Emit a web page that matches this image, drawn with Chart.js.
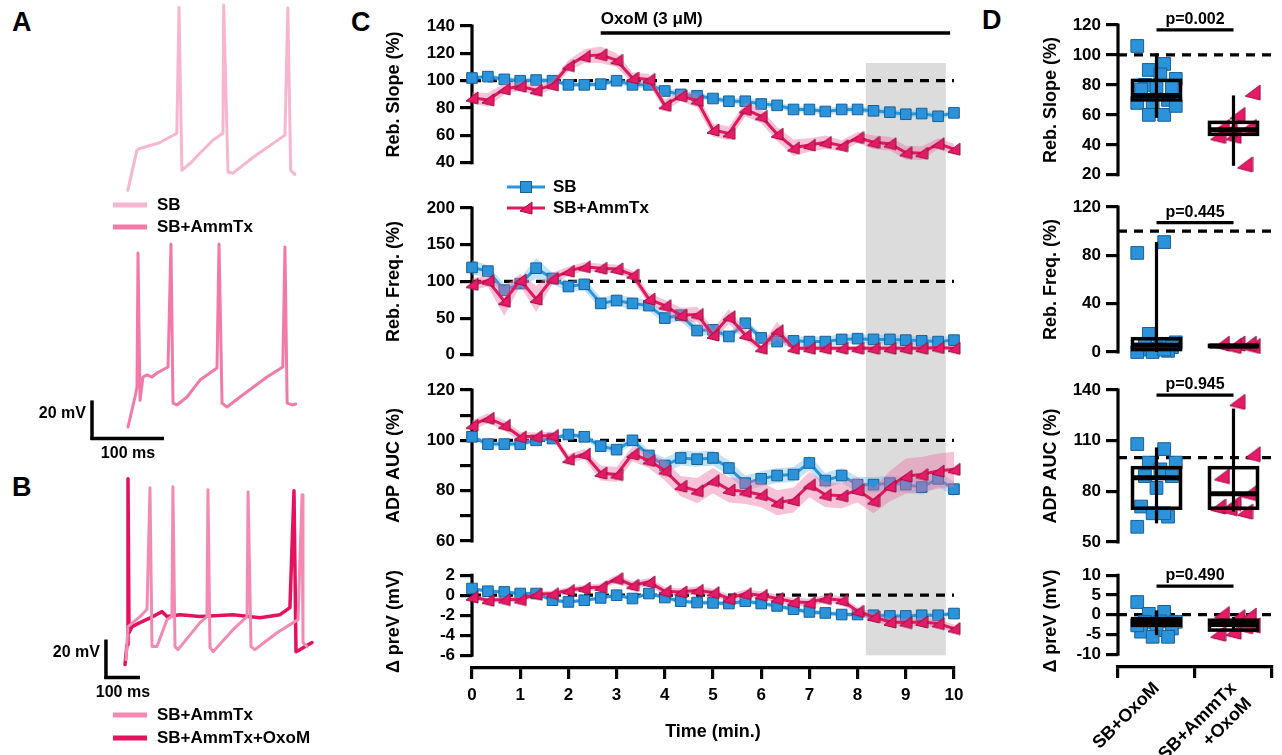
<!DOCTYPE html>
<html>
<head>
<meta charset="utf-8">
<title>OxoM rebound</title>
<script src="https://cdn.jsdelivr.net/npm/chart.js@4.4.1/dist/chart.umd.min.js"></script>
<style>
  body { margin: 0; width: 1282px; height: 755px; position: relative; background: #fff; overflow: hidden;
         font-family: "Liberation Sans", Arial, sans-serif; }
  canvas { position: absolute; }
  .letter { position: absolute; font-weight: bold; font-size: 27px; line-height: 1; }
</style>
</head>
<body>
<div class="letter" style="left:12px;top:9px">A</div>
<div class="letter" style="left:12px;top:474px">B</div>
<div class="letter" style="left:351px;top:9px">C</div>
<div class="letter" style="left:982px;top:7px">D</div>

<canvas id="traceA1" width="209" height="236" style="left:99px;top:0px"></canvas>
<canvas id="traceA2" width="270" height="247" style="left:38px;top:237px"></canvas>
<canvas id="traceB" width="289" height="279" style="left:40px;top:471px"></canvas>

<canvas id="c1" width="582" height="178" style="left:383px;top:0px"></canvas>
<canvas id="c2" width="582" height="192" style="left:383px;top:178px"></canvas>
<canvas id="c3" width="582" height="190" style="left:383px;top:370px"></canvas>
<canvas id="c4" width="582" height="195" style="left:383px;top:560px"></canvas>

<canvas id="d1" width="242" height="190" style="left:1040px;top:0px"></canvas>
<canvas id="d2" width="242" height="180" style="left:1040px;top:190px"></canvas>
<canvas id="d3" width="242" height="190" style="left:1040px;top:370px"></canvas>
<canvas id="d4" width="242" height="195" style="left:1040px;top:560px"></canvas>

<script>
// ---- данные: время (мин.) ----
const timeMin = [0, 0.33, 0.67, 1, 1.33, 1.67, 2, 2.33, 2.67, 3, 3.33, 3.67, 4, 4.33, 4.67, 5,
                 5.33, 5.67, 6, 6.33, 6.67, 7, 7.33, 7.67, 8, 8.33, 8.67, 9, 9.33, 9.67, 10];

// Reb. Slope (%)
const slopeSB = [102, 103, 101, 100, 100.5, 100, 97, 97, 97.5, 100, 97, 97, 92.5, 90, 89, 87,
                 85, 85, 83, 82, 79, 79, 77.5, 79, 79, 78, 77, 75.5, 76, 74, 76.5];
const slopeSBsem = [1.5, 1.8, 2, 1.8, 2, 1.7, 1.6, 1.8, 1.9, 2.1, 2.2, 2.4, 2.5, 2.4, 2.3, 2.2,
                    2.4, 2.5, 2.6, 2.4, 2.3, 2.2, 2.4, 2.5, 2.3, 2.2, 2.4, 2.5, 2.6, 2.4, 2.3];
const slopeAmm = [87.5, 86, 94, 96, 93, 97, 111, 118, 119, 115, 102, 101, 82, 89, 85.5, 64,
                  61.5, 79, 74, 61, 51, 53, 55, 52.5, 58.5, 55, 54, 47.5, 47, 54, 50];
const slopeAmmSem = [4, 5, 4, 3, 4, 3, 4, 5, 6, 5, 4, 4, 4, 4, 5, 5,
                     5, 5, 5, 5, 6, 5, 5, 4, 4, 5, 5, 5, 5, 4, 4];

// Reb. Freq. (%)
const freqSB = [119, 114, 88, 97, 118, 104, 93, 96, 70, 74, 70, 67, 50, 54, 33, 34,
                25, 43, 23, 18, 19, 18, 18, 21, 22, 21, 21, 20, 19, 18, 20];
const freqSBsem = [10, 8, 8, 7, 14, 8, 7, 8, 8, 8, 8, 7, 8, 8, 8, 6,
                   6, 5, 6, 6, 6, 7, 7, 7, 6, 6, 6, 6, 6, 6, 6];
const freqAmm = [96, 101, 73, 102, 76, 104, 114, 120, 118, 117, 109, 76, 67, 54, 55, 27,
                 52, 27, 9, 33, 9, 9, 9, 9, 9, 9, 9, 9, 9, 10, 9];
const freqAmmSem = [8, 8, 20, 8, 18, 8, 6, 6, 6, 6, 6, 8, 8, 10, 10, 8,
                    10, 8, 4, 12, 3, 3, 3, 3, 3, 3, 3, 3, 3, 3, 3];

// ADP AUC (%)
const aucSB = [101.4, 98.5, 98.5, 98.5, 100, 100.7, 102.3, 101.4, 97.7, 96.3, 100, 94, 90, 93, 92.5, 93,
               89, 83, 84.7, 86, 86.4, 91, 84, 86, 82.4, 82.4, 83, 82.4, 81.4, 84.7, 80.6];
const aucSBsem = [1, 1, 1, 1, 1, 1, 1, 1, 1.5, 1.5, 2, 2, 3, 3, 3, 3,
                  3, 3, 3, 3, 3, 3, 3, 3, 3, 3, 3, 3, 3, 3, 3];
const aucAmm = [106, 108.8, 106, 101.4, 101.6, 102, 92.5, 94.6, 87, 86.4, 94.6, 92, 88, 81.8, 80, 84,
                80.3, 79.7, 78.4, 75.2, 76.3, 82.4, 78.4, 78, 80.3, 76, 81.8, 85.8, 86.4, 87.8, 88.5];
const aucAmmSem = [2, 2, 2, 2, 1.5, 1.5, 2, 2, 3, 3, 3, 3, 4, 4, 5, 5,
                   5, 5, 5, 5, 5, 5, 5, 5, 5, 5, 6, 7, 7, 7, 7];

// Δ preV (mV)
const prevSB = [0.67, 0.4, 0.33, 0.17, 0.17, -0.5, -0.67, -0.5, -0.27, 0, -0.33, 0.17, -0.23, -0.6, -0.73, -0.77,
                -0.83, -0.6, -0.83, -1.07, -1.4, -1.67, -1.77, -1.93, -1.93, -2, -2.07, -2.07, -2, -2, -1.83];
const prevSBsem = [0.2, 0.2, 0.2, 0.2, 0.2, 0.2, 0.2, 0.2, 0.2, 0.2, 0.2, 0.2, 0.25, 0.25, 0.25, 0.25,
                   0.25, 0.25, 0.25, 0.25, 0.25, 0.25, 0.25, 0.25, 0.25, 0.25, 0.25, 0.25, 0.25, 0.25, 0.25];
const prevAmm = [-0.17, -0.5, -0.43, -0.43, 0.1, 0.17, 0.5, 0.73, 0.83, 1.67, 1.0, 1.33, 0.4, 0.33, 0.5, 0.27,
                 -0.33, 0.17, 0, -0.33, -0.67, -0.73, -0.33, -0.5, -1.6, -2.17, -2.67, -2.73, -2.67, -2.83, -3.33];
const prevAmmSem = [0.25, 0.25, 0.25, 0.25, 0.25, 0.3, 0.3, 0.3, 0.35, 0.4, 0.4, 0.4, 0.4, 0.4, 0.4, 0.4,
                    0.4, 0.4, 0.4, 0.4, 0.4, 0.4, 0.4, 0.4, 0.4, 0.4, 0.4, 0.4, 0.4, 0.4, 0.4];

// панель D: группы и значения отдельных клеток
const groupLabels = ['SB+OxoM', ['SB+AmmTx', '+OxoM']];
const dSlopeSB = [106, 94, 90, 84, 87, 80, 78, 79, 77, 70, 68, 68, 60, 60, 66];
const dSlopeAmm = [75, 60, 52, 52, 46, 46, 27, 50];
const dFreqSB = [82, 91, 15, 8, 6, 5, 4, 3, 2, 1, 0, 0, 2];
const dFreqAmm = [5, 7, 7, 7, 5];
const dAucSB = [108, 105, 97, 97, 93, 89, 89, 82, 71, 65, 67, 59, 67];
const dAucAmm = [102, 133, 89, 79, 73, 71, 68, 70];
const dPrevSB = [3.2, 0.7, 0.2, -1.8, -1.7, -1.8, -3.5, -3.9, -4.3, -5.6, -5.6, -2.7];
const dPrevAmm = [-2.7, -0.6, 0.2, -0.2, -4.3, -4.8, -2.9];
// ящики: [мин, Q1, медиана, Q3, макс] для SB+OxoM и SB+AmmTx+OxoM
const boxSlope = [[58, 70, 73, 83, 101], [26, 47, 50, 55, 73]];
const boxFreq = [[0, 2, 5.5, 11, 91], [4, 4.5, 5, 5.5, 6]];
const boxAuc = [[61, 70, 88, 94, 106], [68, 70, 78.5, 94, 129]];
const boxPrev = [[-5.2, -2.7, -1.8, -1, 1.1], [-4.3, -3.9, -2.5, -1.4, -0.6]];
const pValues = ['p=0.002', 'p=0.445', 'p=0.945', 'p=0.490'];

// записи потенциала: [время (мс), мВ]
const traceA_SB = [[0, -70], [12.5, -49], [16.7, -48], [44, -45], [68, -40], [71, 26], [75, -59.5],
  [86, -56], [100, -50.5], [118, -43.7], [132, -40], [133, 27.4], [139, -60.5], [146, -61],
  [174, -52.6], [218, -41], [222, 25.8], [226, -59.5], [232, -61.6]];
const traceA_Amm = [[0, -70], [9.7, -54.2], [12.5, -49], [13.9, 21.6], [16.7, -56], [20.8, -43.7],
  [26.4, -42.6], [33.3, -43.7], [40.3, -41.6], [55.6, -38.4], [59.7, 26.3], [62.5, -57.4], [68, -58.4],
  [82, -54.2], [100, -45.3], [123.6, -39], [126.4, 26.3], [130.6, -57.4], [137.5, -59.5], [155.6, -54.2],
  [193, -43.7], [215, -38.4], [218, 24.7], [221, -57.4], [228, -58.4], [233, -57.9]];
const traceB_Amm = [[2.9, -67.4], [8.8, -50], [44, -44.7], [64.7, -41], [73.5, 23.2], [79.4, -60.5],
  [94, -60.5], [123.5, -46.3], [138, -44.7], [141, 23.7], [147, -60.5], [156, -62.1], [220.6, -47.9],
  [241, -44.7], [244, 22.1], [250, -61], [259, -63.2], [317.6, -51.6], [359, -44.7], [362, 21],
  [370.6, -60.5], [382, -62.1], [447, -53.2], [509, -46.3], [520.6, 19.5], [523.5, -58.4], [535, -60.5]];
const traceB_Oxo = [[0, -70], [5.9, -59.5], [8.8, 27.9], [11.8, -53.2], [20.6, -50], [44, -47.9],
  [82, -44.7], [109, -42.1], [123.5, -44.7], [162, -43.7], [220.6, -44.7], [317.6, -43.7],
  [397, -45.3], [456, -43.7], [485, -40], [497, 21.6], [503, -63.2], [515, -62.1], [550, -58.4]];

// ---- стиль ----
const BLUE_LINE = '#2796dc', BLUE_FILL = '#2a93d9', BLUE_EDGE = '#1b5f9a';
const PINK_LINE = '#e0185c', PINK_FILL = '#e61a66', PINK_EDGE = '#9b0e42';
const BLUE_BAND = 'rgba(120,190,235,0.45)', PINK_BAND = 'rgba(236,110,160,0.42)';
const SHADE_FROM = 8.17, SHADE_TO = 9.83;

Chart.defaults.font.family = '"Liberation Sans", Arial, sans-serif';
Chart.defaults.font.weight = 'bold';
Chart.defaults.font.size = 17;
Chart.defaults.color = '#000';
Chart.defaults.animation = false;
Chart.defaults.responsive = false;
Chart.defaults.plugins.legend.display = false;
Chart.defaults.plugins.tooltip.enabled = false;

// маркер-треугольник (как в Prism)
function triMarker(size) {
    const c = document.createElement('canvas');
    c.width = size; c.height = size;
    const g = c.getContext('2d');
    g.beginPath();
    g.moveTo(size - 1, 1);
    g.lineTo(size - 1, size - 1);
    g.lineTo(1, size * 0.72);
    g.closePath();
    g.fillStyle = PINK_FILL;
    g.fill();
    g.lineWidth = 1;
    g.strokeStyle = PINK_EDGE;
    g.stroke();
    return c;
}
const triSmall = triMarker(14);
const triBig = triMarker(17);

function drawLine(ctx, x1, y1, x2, y2, w, dash) {
    ctx.save();
    ctx.beginPath();
    ctx.lineWidth = w;
    ctx.strokeStyle = '#000';
    ctx.setLineDash(dash || []);
    ctx.moveTo(x1, y1);
    ctx.lineTo(x2, y2);
    ctx.stroke();
    ctx.restore();
}

// ось X: фиксированная высота, без боковых отступов под подписи
function fitX(height) {
    return s => {
        if (!s.options.display) return;
        s.height = height;
        s.paddingLeft = 0;
        s.paddingRight = 0;
    };
}

// оформление панелей: серая зона, пунктир, ось Y
const panelDecor = {
    id: 'panelDecor',
    beforeDatasetsDraw(chart, args, o) {
        const ctx = chart.ctx, x = chart.scales.x, y = chart.scales.y, area = chart.chartArea;
        if (o.shade) {
            const top = o.shadeTop == null ? 0 : y.getPixelForValue(o.shadeTop);
            const bottom = o.shadeBottom == null ? chart.height : y.getPixelForValue(o.shadeBottom);
            const x1 = x.getPixelForValue(SHADE_FROM), x2 = x.getPixelForValue(SHADE_TO);
            ctx.save();
            ctx.fillStyle = '#dcdcdc';
            ctx.fillRect(x1, top, x2 - x1, bottom - top);
            ctx.restore();
        }
        const ry = y.getPixelForValue(o.ref);
        drawLine(ctx, area.left, ry, area.right, ry, 3.2, [9, 7]);
        drawLine(ctx, area.left, y.getPixelForValue(o.yTop) - 1.5, area.left, y.getPixelForValue(o.yBottom) + 1.5, 3.2);
    }
};

// полоса OxoM над верхним графиком
const oxoBar = {
    id: 'oxoBar',
    afterDatasetsDraw(chart) {
        const ctx = chart.ctx, x = chart.scales.x;
        const x1 = x.getPixelForValue(2.67), x2 = x.getPixelForValue(9.92);
        drawLine(ctx, x1, 33, x2, 33, 3.5);
        ctx.save();
        ctx.font = 'bold 17px "Liberation Sans", Arial, sans-serif';
        ctx.fillStyle = '#000';
        ctx.textBaseline = 'alphabetic';
        ctx.fillText('OxoM (3 μM)', x1, 24);
        ctx.restore();
    }
};

// легенда панели C
const cLegend = {
    id: 'cLegend',
    afterDatasetsDraw(chart) {
        const ctx = chart.ctx, a = chart.chartArea;
        const x0 = a.left + 35, x1 = a.left + 73, tx = a.left + 81;
        const rows = [a.top - 21, a.top];
        ctx.save();
        ctx.lineWidth = 3;
        ctx.strokeStyle = BLUE_LINE;
        ctx.beginPath(); ctx.moveTo(x0, rows[0]); ctx.lineTo(x1, rows[0]); ctx.stroke();
        ctx.fillStyle = BLUE_FILL; ctx.strokeStyle = BLUE_EDGE; ctx.lineWidth = 1;
        ctx.fillRect((x0 + x1) / 2 - 5.5, rows[0] - 5.5, 11, 11);
        ctx.strokeRect((x0 + x1) / 2 - 5.5, rows[0] - 5.5, 11, 11);
        ctx.lineWidth = 3;
        ctx.strokeStyle = PINK_LINE;
        ctx.beginPath(); ctx.moveTo(x0, rows[1]); ctx.lineTo(x1, rows[1]); ctx.stroke();
        ctx.drawImage(triSmall, (x0 + x1) / 2 - 7, rows[1] - 7);
        ctx.fillStyle = '#000';
        ctx.font = 'bold 17px "Liberation Sans", Arial, sans-serif';
        ctx.textBaseline = 'middle';
        ctx.fillText('SB', tx, rows[0]);
        ctx.fillText('SB+AmmTx', tx, rows[1]);
        ctx.restore();
    }
};

function bandPts(mean, sem, sign) {
    return mean.map((v, i) => ({ x: timeMin[i], y: v + sign * sem[i] }));
}
function meanPts(mean) {
    return mean.map((v, i) => ({ x: timeMin[i], y: v }));
}

function makeTimeChart(id, cfg) {
    const tickVals = cfg.ticks;
    const labelVals = cfg.labels || cfg.ticks;
    const datasets = [
        { data: bandPts(cfg.sb, cfg.sbSem, 1), borderWidth: 0, pointRadius: 0, fill: false, order: 60 },
        { data: bandPts(cfg.sb, cfg.sbSem, -1), borderWidth: 0, pointRadius: 0, fill: '-1', backgroundColor: BLUE_BAND, order: 50 },
        { data: meanPts(cfg.sb), borderColor: BLUE_LINE, borderWidth: 3, pointStyle: 'rect', pointRadius: 7.5,
          pointBackgroundColor: BLUE_FILL, pointBorderColor: BLUE_EDGE, pointBorderWidth: 1, order: 40, clip: false },
        { data: bandPts(cfg.amm, cfg.ammSem, 1), borderWidth: 0, pointRadius: 0, fill: false, order: 30 },
        { data: bandPts(cfg.amm, cfg.ammSem, -1), borderWidth: 0, pointRadius: 0, fill: '-1', backgroundColor: PINK_BAND, order: 20 },
        { data: meanPts(cfg.amm), borderColor: PINK_LINE, borderWidth: 3, pointStyle: triSmall, order: 10, clip: false }
    ];
    return new Chart(document.getElementById(id), {
        type: 'line',
        data: { datasets },
        options: {
            layout: { padding: { top: cfg.padTop, bottom: cfg.padBottom, left: 0, right: 11 } },
            scales: {
                x: {
                    type: 'linear', min: 0, max: 10, display: !!cfg.showX,
                    ticks: { stepSize: 1, padding: 6, font: { size: 17 } },
                    border: { display: true, width: 3.2, color: '#000' },
                    grid: { drawOnChartArea: false, drawTicks: true, tickLength: 11, lineWidth: 3.2, color: '#000' },
                    title: { display: !!cfg.showX, text: 'Time (min.)', font: { size: 18 }, padding: { top: 0, bottom: 12 } },
                    afterFit: fitX(87)
                },
                y: {
                    min: cfg.min, max: cfg.max,
                    afterBuildTicks: s => { s.ticks = tickVals.map(v => ({ value: v })); },
                    ticks: { autoSkip: false, padding: 5, callback: v => labelVals.includes(v) ? String(v) : '' },
                    border: { display: false },
                    grid: { drawOnChartArea: false, drawTicks: true, tickLength: 12, lineWidth: 3.2, color: '#000' },
                    title: { display: true, text: cfg.title, font: { size: 18 }, padding: { top: 0, bottom: 0 } },
                    afterFit: s => { s.width = 89; }
                }
            },
            plugins: {
                panelDecor: { shade: true, shadeTop: cfg.shadeTop, shadeBottom: cfg.shadeBottom, ref: cfg.ref,
                              yTop: cfg.ticks[cfg.ticks.length - 1], yBottom: cfg.ticks[0] }
            }
        },
        plugins: [panelDecor].concat(cfg.extra || [])
    });
}

makeTimeChart('c1', { sb: slopeSB, sbSem: slopeSBsem, amm: slopeAmm, ammSem: slopeAmmSem,
    min: 40, max: 140, ticks: [40, 60, 80, 100, 120, 140], title: 'Reb. Slope (%)', ref: 100,
    padTop: 26, padBottom: 5, shadeTop: 113, extra: [oxoBar] });
makeTimeChart('c2', { sb: freqSB, sbSem: freqSBsem, amm: freqAmm, ammSem: freqAmmSem,
    min: 0, max: 200, ticks: [0, 50, 100, 150, 200], title: 'Reb. Freq. (%)', ref: 100,
    padTop: 30, padBottom: 13, extra: [cLegend] });
makeTimeChart('c3', { sb: aucSB, sbSem: aucSBsem, amm: aucAmm, ammSem: aucAmmSem,
    min: 60, max: 120, ticks: [60, 70, 80, 90, 100, 110, 120], labels: [60, 80, 100, 120],
    title: 'ADP AUC (%)', ref: 100, padTop: 20, padBottom: 19 });
makeTimeChart('c4', { sb: prevSB, sbSem: prevSBsem, amm: prevAmm, ammSem: prevAmmSem,
    min: -7.27, max: 2, ticks: [-6, -4, -2, 0, 2], title: 'Δ preV (mV)', ref: 0,
    padTop: 13, padBottom: 0, shadeBottom: -6, showX: true });

// ---- панель D ----
function jitter(i) {
    return ((i * 7) % 11 - 5) * 0.05;
}

const boxPlot = {
    id: 'boxPlot',
    afterDatasetsDraw(chart, args, o) {
        const ctx = chart.ctx, xs = chart.scales.xj, y = chart.scales.y;
        o.stats.forEach((s, g) => {
            const cx = xs.getPixelForValue(g), half = 24;
            drawLine(ctx, cx, y.getPixelForValue(s[4]), cx, y.getPixelForValue(s[0]), 3.2);
            ctx.save();
            ctx.lineWidth = 3.5;
            ctx.strokeStyle = '#000';
            ctx.strokeRect(cx - half, y.getPixelForValue(s[3]), 2 * half, y.getPixelForValue(s[1]) - y.getPixelForValue(s[3]));
            ctx.restore();
            drawLine(ctx, cx - half, y.getPixelForValue(s[2]), cx + half, y.getPixelForValue(s[2]), 5);
        });
        // p-value
        const px1 = xs.getPixelForValue(0), px2 = xs.getPixelForValue(1), py = y.getPixelForValue(o.pAt);
        drawLine(ctx, px1, py, px2, py, 3.2);
        ctx.save();
        ctx.font = 'bold 16px "Liberation Sans", Arial, sans-serif';
        ctx.fillStyle = '#000';
        ctx.textAlign = 'center';
        ctx.textBaseline = 'alphabetic';
        ctx.fillText(o.p, (px1 + px2) / 2, py - 6);
        ctx.restore();
    }
};

function makeBoxChart(id, cfg) {
    const tickVals = cfg.ticks;
    return new Chart(document.getElementById(id), {
        type: 'scatter',
        data: {
            labels: groupLabels,
            datasets: [
                { xAxisID: 'xj', data: cfg.sb.map((v, i) => ({ x: jitter(i), y: v })), pointStyle: 'rect', pointRadius: 9,
                  pointBackgroundColor: BLUE_FILL, pointBorderColor: BLUE_EDGE, pointBorderWidth: 1, clip: false },
                { xAxisID: 'xj', data: cfg.amm.map((v, i) => ({ x: 1 + jitter(i + 3), y: v })), pointStyle: triBig, clip: false }
            ]
        },
        options: {
            layout: { padding: { top: cfg.padTop, bottom: cfg.padBottom, left: 0, right: 4 } },
            scales: {
                x: {
                    type: 'category', labels: groupLabels, offset: true, display: !!cfg.showX,
                    ticks: { minRotation: 45, maxRotation: 45, padding: 0, font: { size: 18 } },
                    border: { display: true, width: 3.2, color: '#000' },
                    grid: { offset: true, drawOnChartArea: false, drawTicks: true, tickLength: 11, lineWidth: 3.2, color: '#000' },
                    afterFit: fitX(88)
                },
                xj: { type: 'linear', min: -0.5, max: 1.5, display: false },
                y: {
                    min: cfg.min, max: cfg.max,
                    afterBuildTicks: s => { s.ticks = tickVals.map(v => ({ value: v })); },
                    ticks: { autoSkip: false, padding: 5 },
                    border: { display: false },
                    grid: { drawOnChartArea: false, drawTicks: true, tickLength: 12, lineWidth: 3.2, color: '#000' },
                    title: { display: true, text: cfg.title, font: { size: 18 }, padding: { top: 0, bottom: 0 } },
                    afterFit: s => { s.width = 78; }
                }
            },
            plugins: {
                panelDecor: { shade: false, ref: cfg.ref, yTop: tickVals[tickVals.length - 1], yBottom: tickVals[0] },
                boxPlot: { stats: cfg.box, p: cfg.p, pAt: cfg.pAt }
            }
        },
        plugins: [panelDecor, boxPlot]
    });
}

makeBoxChart('d1', { sb: dSlopeSB, amm: dSlopeAmm, box: boxSlope, p: pValues[0], pAt: 116.7,
    min: 20, max: 120, ticks: [20, 40, 60, 80, 100, 120], title: 'Reb. Slope (%)', ref: 100, padTop: 25, padBottom: 15 });
makeBoxChart('d2', { sb: dFreqSB, amm: dFreqAmm, box: boxFreq, p: pValues[1], pAt: 107,
    min: 0, max: 120, ticks: [0, 40, 80, 120], title: 'Reb. Freq. (%)', ref: 100, padTop: 17, padBottom: 18 });
makeBoxChart('d3', { sb: dAucSB, amm: dAucAmm, box: boxAuc, p: pValues[2], pAt: 137,
    min: 50, max: 140, ticks: [50, 80, 110, 140], title: 'ADP AUC (%)', ref: 100, padTop: 20, padBottom: 18 });
makeBoxChart('d4', { sb: dPrevSB, amm: dPrevAmm, box: boxPrev, p: pValues[3], pAt: 7.25,
    min: -13.25, max: 10, ticks: [-10, -5, 0, 5, 10], title: 'Δ preV (mV)', ref: 0, padTop: 14, padBottom: 0, showX: true });

// ---- панели A и B: записи ----
function scaleBar(o) {
    return {
        id: 'scaleBar',
        afterDatasetsDraw(chart) {
            const ctx = chart.ctx, x = chart.scales.x, y = chart.scales.y;
            const cx = x.getPixelForValue(o.t0), cy = y.getPixelForValue(o.v0);
            drawLine(ctx, cx, cy + 1.5, cx, y.getPixelForValue(o.v0 + 20), 3.5);
            drawLine(ctx, cx - 1.5, cy, x.getPixelForValue(o.t0 + 100), cy, 3.5);
            ctx.save();
            ctx.font = 'bold 16px "Liberation Sans", Arial, sans-serif';
            ctx.fillStyle = '#000';
            ctx.textBaseline = 'middle';
            ctx.textAlign = 'right';
            ctx.fillText('20 mV', cx - 6, y.getPixelForValue(o.v0 + 13));
            ctx.textAlign = 'center';
            ctx.fillText('100 ms', x.getPixelForValue(o.t0 + 50), cy + 15);
            ctx.restore();
        }
    };
}

function traceLegend(rows) {
    return {
        id: 'traceLegend',
        afterDatasetsDraw(chart) {
            const ctx = chart.ctx;
            ctx.save();
            ctx.font = 'bold 17px "Liberation Sans", Arial, sans-serif';
            ctx.textBaseline = 'middle';
            rows.forEach(r => {
                ctx.strokeStyle = r.color;
                ctx.lineWidth = 5;
                ctx.beginPath();
                ctx.moveTo(r.x, r.y);
                ctx.lineTo(r.x + 34, r.y);
                ctx.stroke();
                ctx.fillStyle = '#000';
                ctx.fillText(r.text, r.x + 44, r.y);
            });
            ctx.restore();
        }
    };
}

function makeTrace(id, traces, xr, yr, extra) {
    return new Chart(document.getElementById(id), {
        type: 'scatter',
        data: {
            datasets: traces.map(t => ({
                data: t.pts.map(p => ({ x: p[0], y: p[1] })),
                showLine: true, borderColor: t.color, borderWidth: t.width || 3, pointRadius: 0,
                tension: 0, borderJoinStyle: 'round', borderCapStyle: 'round', clip: false
            }))
        },
        options: {
            layout: { padding: 0 },
            scales: {
                x: { display: false, min: xr[0], max: xr[1] },
                y: { display: false, min: yr[0], max: yr[1] }
            }
        },
        plugins: extra
    });
}

const A_SB = '#f7b6cf', A_AMM = '#f27aa8', B_AMM = '#f48ab4', B_OXO = '#e3115e';

makeTrace('traceA1', [{ pts: traceA_SB, color: A_SB }], [-40, 250], [-94, 30],
    [traceLegend([{ x: 14, y: 205, color: A_SB, text: 'SB' }, { x: 14, y: 227, color: A_AMM, text: 'SB+AmmTx' }])]);
makeTrace('traceA2', [{ pts: traceA_Amm, color: A_AMM }], [-125, 250], [-100, 30],
    [scaleBar({ t0: -50, v0: -76 })]);
makeTrace('traceB', [{ pts: traceB_Amm, color: B_AMM }, { pts: traceB_Oxo, color: B_OXO, width: 3.5 }], [-250, 600], [-115, 32],
    [scaleBar({ t0: -56, v0: -76.8 }),
     traceLegend([{ x: 73, y: 244, color: B_AMM, text: 'SB+AmmTx' }, { x: 73, y: 267, color: B_OXO, text: 'SB+AmmTx+OxoM' }])]);
</script>
</body>
</html>
